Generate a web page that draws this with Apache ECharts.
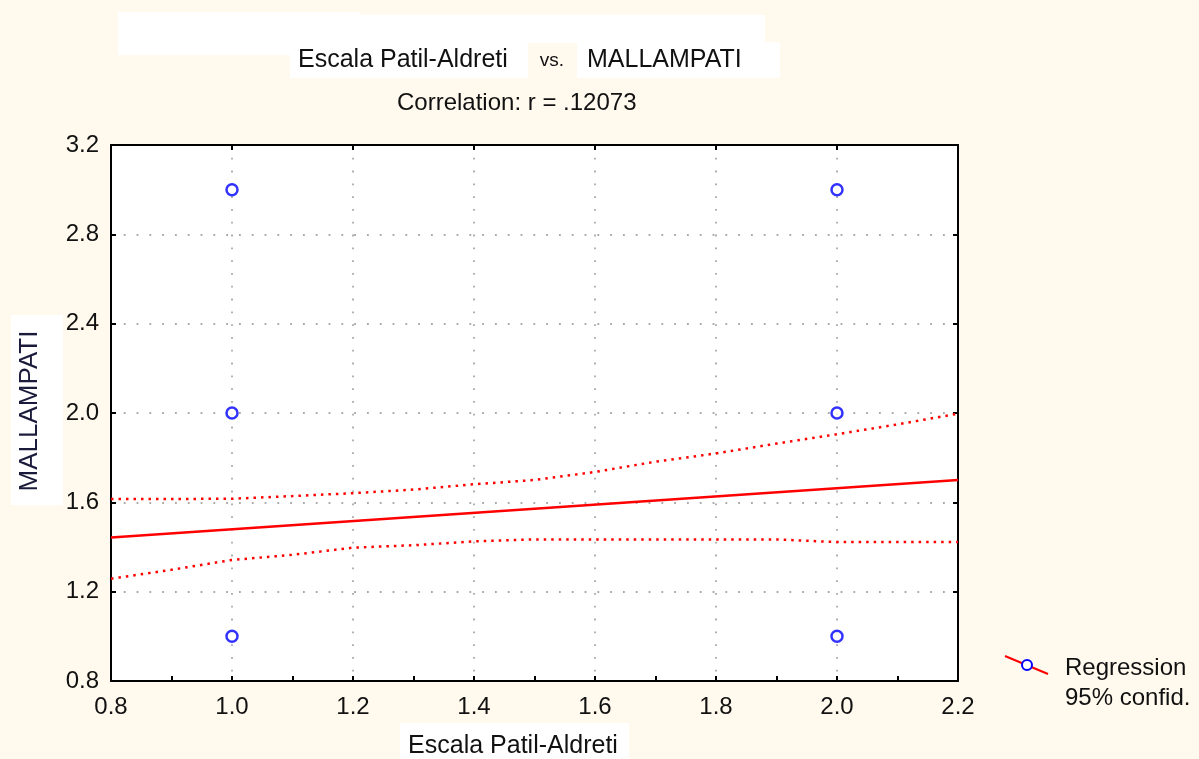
<!DOCTYPE html>
<html>
<head>
<meta charset="utf-8">
<title>Escala Patil-Aldreti vs. MALLAMPATI</title>
<script src="https://cdn.jsdelivr.net/npm/echarts@6/dist/echarts.min.js"></script>
<style>
  html, body { margin: 0; padding: 0; background: #fff9ee; }
  #chart { width: 1199px; height: 759px; }
</style>
</head>
<body>
<div id="chart"></div>
<script>
// observed cases
var obsX = [1, 1, 1, 2, 2, 2];
var obsY = [3, 2, 1, 3, 2, 1];

// fitted regression line (r = .12073)
var regX = [0.8, 2.2];
var regY = [1.443, 1.700];

// 95% confidence band
var bandX = [0.8, 0.9, 1.0, 1.1, 1.2, 1.3, 1.4, 1.5, 1.6, 1.7, 1.8, 1.9, 2.0, 2.1, 2.2];
var upperY = [1.615, 1.615, 1.616, 1.628, 1.641, 1.657, 1.681, 1.700, 1.736, 1.782, 1.819, 1.863, 1.905, 1.949, 1.997];
var lowerY = [1.258, 1.298, 1.342, 1.365, 1.397, 1.408, 1.425, 1.434, 1.434, 1.434, 1.434, 1.434, 1.422, 1.422, 1.422];

var FONT = 'Liberation Sans, Arial, sans-serif';

function pairs(xs, ys) {
    return xs.map(function (x, i) { return [x, ys[i]]; });
}

var chart = echarts.init(document.getElementById('chart'));

var gridLine = { show: true, lineStyle: { color: '#a8a8a8', width: 1.8, type: [1.8, 11] } };
var tick = { show: true, inside: true, length: 5, lineStyle: { color: '#000', width: 2 } };
var axisLine = { show: true, onZero: false, lineStyle: { color: '#000', width: 2 } };
var label = { color: '#111', fontSize: 24, fontFamily: FONT, formatter: function (v) { return v.toFixed(1); } };

var option = {
    backgroundColor: '#fff9ee',
    animation: false,
    grid: { left: 111, right: 241, top: 145, bottom: 78, show: true, backgroundColor: '#fff', borderWidth: 0 },
    xAxis: [{
        type: 'value', min: 0.8, max: 2.2, interval: 0.2,
        axisLine: axisLine, axisTick: tick,
        minorTick: { show: true, splitNumber: 2, length: 5, lineStyle: { color: '#000', width: 2 } },
        axisLabel: Object.assign({ margin: 14 }, label),
        splitLine: gridLine
    }, {
        type: 'value', position: 'top', min: 0.8, max: 2.2, interval: 0.2,
        axisLine: axisLine, axisTick: tick, axisLabel: { show: false }, splitLine: { show: false }
    }],
    yAxis: [{
        type: 'value', min: 0.8, max: 3.2, interval: 0.4,
        axisLine: axisLine, axisTick: tick,
        axisLabel: Object.assign({ margin: 12 }, label),
        splitLine: gridLine
    }, {
        type: 'value', position: 'right', min: 0.8, max: 3.2, interval: 0.4,
        axisLine: axisLine, axisTick: tick, axisLabel: { show: false }, splitLine: { show: false }
    }],
    series: [{
        name: 'Regression',
        type: 'line',
        data: pairs(regX, regY),
        showSymbol: false,
        lineStyle: { color: '#ff0000', width: 2.5 },
        z: 3
    }, {
        name: '95% confid.',
        type: 'line',
        data: pairs(bandX, upperY),
        showSymbol: false,
        lineStyle: { color: '#ff0000', width: 2.5, type: [2.5, 5] },
        z: 3
    }, {
        name: '95% confid. low',
        type: 'line',
        data: pairs(bandX, lowerY),
        showSymbol: false,
        lineStyle: { color: '#ff0000', width: 2.5, type: [2.5, 5] },
        z: 3
    }, {
        name: 'cases',
        type: 'scatter',
        data: pairs(obsX, obsY),
        symbol: 'circle',
        symbolSize: 11,
        itemStyle: { color: '#fff', borderColor: '#0000ff', borderWidth: 2.5 },
        z: 5
    }],
    graphic: [
        // white boxes round the titles
        { type: 'rect', shape: { x: 118, y: 12, width: 242, height: 43 }, style: { fill: '#fff' } },
        { type: 'rect', shape: { x: 360, y: 15, width: 405, height: 28 }, style: { fill: '#fff' } },
        { type: 'rect', shape: { x: 290, y: 42, width: 238, height: 36 }, style: { fill: '#fff' } },
        { type: 'rect', shape: { x: 577, y: 42, width: 203, height: 36 }, style: { fill: '#fff' } },
        { type: 'text', x: 298, y: 60, style: { text: 'Escala Patil-Aldreti', font: '25px ' + FONT, fill: '#111', verticalAlign: 'middle' } },
        { type: 'text', x: 552, y: 61, style: { text: 'vs.', font: '19px ' + FONT, fill: '#111', align: 'center', verticalAlign: 'middle' } },
        { type: 'text', x: 587, y: 60, style: { text: 'MALLAMPATI', font: '25px ' + FONT, fill: '#111', verticalAlign: 'middle' } },
        { type: 'text', x: 397, y: 103, style: { text: 'Correlation: r = .12073', font: '24px ' + FONT, fill: '#111', verticalAlign: 'middle' } },

        // axis names
        { type: 'rect', shape: { x: 11, y: 315, width: 52, height: 190 }, style: { fill: '#fff' } },
        { type: 'text', x: 30, y: 411, rotation: Math.PI / 2, style: { text: 'MALLAMPATI', font: '26px ' + FONT, fill: '#1a1a3a', align: 'center', verticalAlign: 'middle' } },
        { type: 'rect', shape: { x: 400, y: 723, width: 229, height: 36 }, style: { fill: '#fff' } },
        { type: 'text', x: 513, y: 746, style: { text: 'Escala Patil-Aldreti', font: '25px ' + FONT, fill: '#111', align: 'center', verticalAlign: 'middle' } },

        // legend
        { type: 'line', shape: { x1: 1005, y1: 656, x2: 1048, y2: 674 }, style: { stroke: '#ff0000', lineWidth: 2 } },
        { type: 'circle', shape: { cx: 1027, cy: 665, r: 5 }, style: { fill: '#fff', stroke: '#0000ff', lineWidth: 2 } },
        { type: 'text', x: 1065, y: 668, style: { text: 'Regression', font: '24px ' + FONT, fill: '#111', verticalAlign: 'middle' } },
        { type: 'text', x: 1065, y: 698, style: { text: '95% confid.', font: '24px ' + FONT, fill: '#111', verticalAlign: 'middle' } }
    ]
};

chart.setOption(option);
</script>
</body>
</html>
